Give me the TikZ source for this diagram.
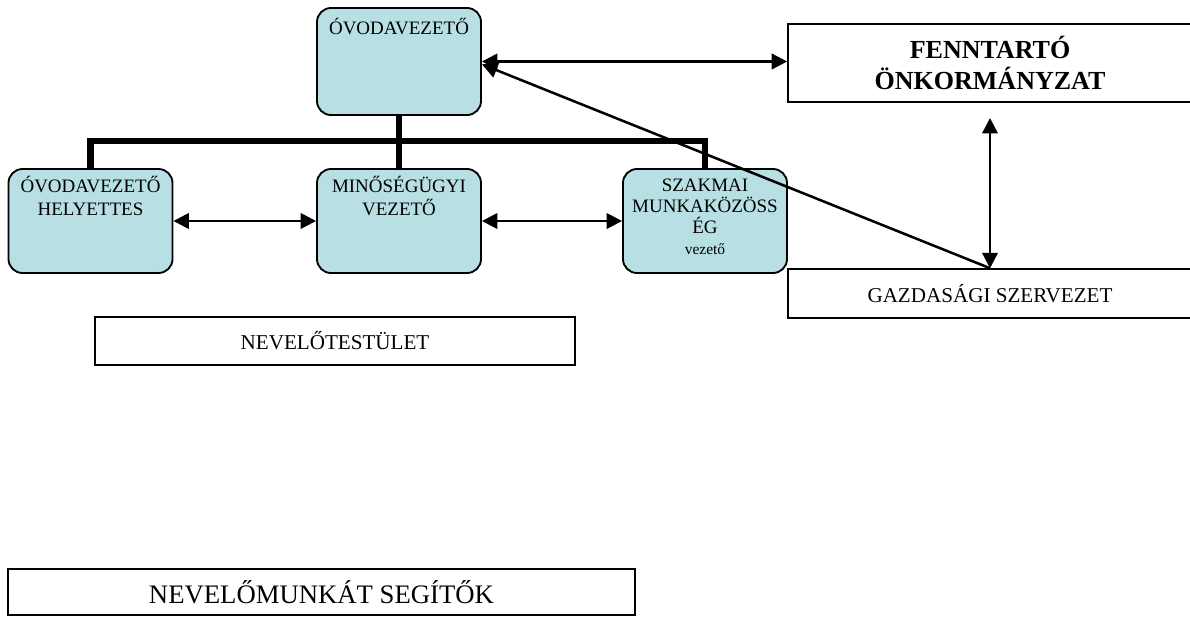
\documentclass[tikz,border=0pt]{standalone}
\usepackage{fontspec}
\setmainfont{Liberation Serif}
\usetikzlibrary{positioning,calc,arrows.meta}
\definecolor{halvanykek}{RGB}{184,224,228}
\tikzset{
  kekdoboz/.style={rectangle,rounded corners=10pt,draw=black,line width=1.3pt,fill=halvanykek,minimum width=4.1cm,minimum height=2.6cm,inner sep=0pt},
  feherdoboz/.style={rectangle,draw=black,line width=1.1pt,fill=white,inner sep=0pt},
  szoveg/.style={inner sep=0pt,align=center,font=\fontsize{13.5}{16.3}\selectfont},
  vastag/.style={line width=4.5pt},
  nyilhegy/.tip={Triangle[length=11pt,width=11pt]},
  nyil/.style={line width=1.8pt,nyilhegy-nyilhegy},
}

\begin{document}
\begin{tikzpicture}[x=0.025cm,y=-0.025cm]
  \clip (0,0) rectangle (1190,618);
  \fill[white] (0,0) rectangle (1190,618);

  % vezetes
  \node[kekdoboz,minimum height=2.675cm] (vezeto) at (399,61.5) {};
  \node[szoveg,anchor=base] (vezetoszoveg) at ($(vezeto.north)+(0,27)$) {ÓVODAVEZETŐ};
  \node[feherdoboz,minimum width=10.1cm,minimum height=1.95cm,align=center,font=\fontsize{18.5}{22}\selectfont\bfseries] (fenntarto) at (990,63) {FENNTARTÓ\\ÖNKORMÁNYZAT};

  % kozepvezetok
  \node[kekdoboz] (helyettes) at (90.5,221) {};
  \node[kekdoboz] (minoseg) at (399,221) {};
  \node[kekdoboz] (szakmai) at (705,221) {};
  \node[szoveg,anchor=north] (helyettesszoveg) at ($(helyettes.north)+(0,7.5)$) {ÓVODAVEZETŐ\\HELYETTES};
  \node[szoveg,anchor=north] (minosegszoveg) at ($(minoseg.north)+(0,7.5)$) {MINŐSÉGÜGYI\\VEZETŐ};
  \node[szoveg,anchor=north,font=\fontsize{13.5}{14.8}\selectfont] (szakmaiszoveg) at ($(szakmai.north)+(0,11)$) {SZAKMAI\\MUNKAKÖZÖSS\\ÉG\\{\fontsize{11}{14.8}\selectfont vezető}};

  % also dobozok
  \node[feherdoboz,minimum width=10.1cm,minimum height=1.225cm,font=\fontsize{15}{17}\selectfont] (gazdasagi) at (990,293.5) {GAZDASÁGI SZERVEZET};
  \node[feherdoboz,minimum width=12cm,minimum height=1.2cm,font=\fontsize{15}{17}\selectfont] (testulet) at (335,341) {NEVELŐTESTÜLET};
  \node[feherdoboz,minimum width=15.675cm,minimum height=1.15cm,font=\fontsize{19}{21}\selectfont] (segitok) at (321.5,592) {NEVELŐMUNKÁT SEGÍTŐK};

  % fa
  \draw[vastag] (vezeto.south) -- (minoseg.north);
  \draw[vastag] (helyettes.north) -- ++(0,-27) -| (szakmai.north);

  % kapcsolatok
  \draw[nyil] (helyettes.east) -- (minoseg.west);
  \draw[nyil] (minoseg.east) -- (szakmai.west);
  \draw[nyil] (vezeto.east) -- (vezeto.east -| fenntarto.west);
  \coordinate (fennalso) at (990,118);
  \draw[nyil] (fennalso) -- (gazdasagi.north);
  \draw[line width=1.8pt,-nyilhegy] (gazdasagi.north) -- ([yshift=-2pt]vezeto.east);
\end{tikzpicture}
\end{document}
